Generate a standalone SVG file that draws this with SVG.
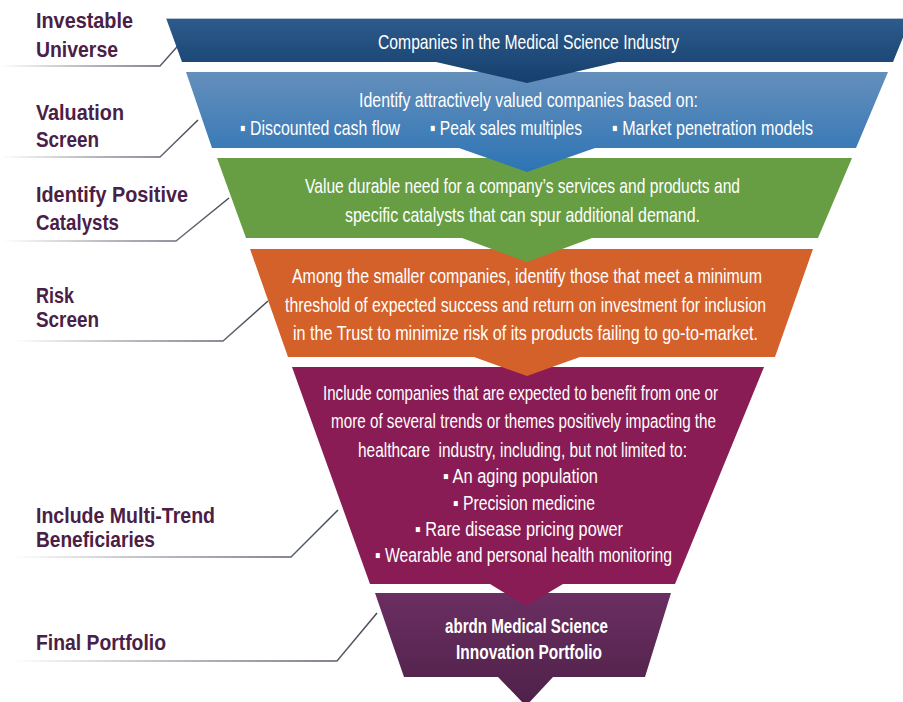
<svg xmlns="http://www.w3.org/2000/svg" width="903" height="702" viewBox="0 0 903 702">
<defs>
<linearGradient id="gNavy" x1="0" y1="0" x2="0" y2="1"><stop offset="0" stop-color="#2d5b8b"/><stop offset="1" stop-color="#153f6d"/></linearGradient>
<linearGradient id="gBlue" x1="0" y1="0" x2="0" y2="1"><stop offset="0" stop-color="#648fbb"/><stop offset="1" stop-color="#2d74b5"/></linearGradient>
<linearGradient id="gPurple" x1="0" y1="0" x2="0" y2="1"><stop offset="0" stop-color="#6b2e62"/><stop offset="1" stop-color="#4e2148"/></linearGradient>
<linearGradient id="gLine" x1="0" y1="0" x2="1" y2="0"><stop offset="0" stop-color="#ffffff"/><stop offset="0.5" stop-color="#9a9ca6"/><stop offset="1" stop-color="#454a58"/></linearGradient>
<style>
.lbl{font-family:"Liberation Sans",Arial,sans-serif;font-weight:bold;font-size:21.5px;fill:#4a2047}
.bt{font-family:"Liberation Sans",Arial,sans-serif;font-size:21px;fill:#ffffff;white-space:pre}
.bt5{font-size:20px}
.bb{font-family:"Liberation Sans",Arial,sans-serif;font-size:20px;font-weight:bold;fill:#ffffff}
.ln{fill:none;stroke:url(#gLine);stroke-width:1.5}
</style>
</defs>
<rect width="903" height="702" fill="#ffffff"/>
<g id="connectors">
<polyline class="ln" points="0,66 160,66 184,39"/>
<polyline class="ln" points="0,157 160,157 198,120"/>
<polyline class="ln" points="3,241 176,241 229,198"/>
<polyline class="ln" points="13,341 223,341 268,301"/>
<polyline class="ln" points="12,557 291,557 338,510"/>
<polyline class="ln" points="12,661 337,661 377,613"/>
</g>
<g id="final-portfolio">
<polygon fill="url(#gPurple)" points="375,593 671,593 645,677 553,677 526,706 498,677 404,677"/>
<text class="bb" x="445" y="633" textLength="163" lengthAdjust="spacingAndGlyphs">abrdn Medical Science</text>
<text class="bb" x="456" y="659" textLength="146" lengthAdjust="spacingAndGlyphs">Innovation Portfolio</text>
<text class="lbl" x="36" y="650" textLength="130" lengthAdjust="spacingAndGlyphs">Final Portfolio</text>
</g>
<g id="multi-trend">
<polygon fill="#891c54" points="292,367 764,367 675,584 563,584 526,606 490,584 370,584"/>
<text class="bt bt5" x="323" y="400" textLength="395" lengthAdjust="spacingAndGlyphs">Include companies that are expected to benefit from one or</text>
<text class="bt bt5" x="331" y="428" textLength="385" lengthAdjust="spacingAndGlyphs">more of several trends or themes positively impacting the</text>
<text class="bt bt5" x="358" y="457" textLength="329" lengthAdjust="spacingAndGlyphs">healthcare  industry, including, but not limited to:</text>
<text class="bt bt5" x="443" y="483" textLength="155" lengthAdjust="spacingAndGlyphs">▪ An aging population</text>
<text class="bt bt5" x="453" y="510" textLength="142" lengthAdjust="spacingAndGlyphs">▪ Precision medicine</text>
<text class="bt bt5" x="415" y="536" textLength="208" lengthAdjust="spacingAndGlyphs">▪ Rare disease pricing power</text>
<text class="bt bt5" x="375" y="562" textLength="297" lengthAdjust="spacingAndGlyphs">▪ Wearable and personal health monitoring</text>
<text class="lbl" x="36" y="523" textLength="179" lengthAdjust="spacingAndGlyphs">Include Multi-Trend</text>
<text class="lbl" x="36" y="547" textLength="119" lengthAdjust="spacingAndGlyphs">Beneficiaries</text>
</g>
<g id="risk-screen">
<polygon fill="#d4612a" points="250,249 813,249 775,357 580,357 527,376 474,357 288,357"/>
<text class="bt" x="292" y="283" textLength="470" lengthAdjust="spacingAndGlyphs">Among the smaller companies, identify those that meet a minimum</text>
<text class="bt" x="285" y="312" textLength="481" lengthAdjust="spacingAndGlyphs">threshold of expected success and return on investment for inclusion</text>
<text class="bt" x="293" y="340" textLength="465" lengthAdjust="spacingAndGlyphs">in the Trust to minimize risk of its products failing to go-to-market.</text>
<text class="lbl" x="36" y="303" textLength="38" lengthAdjust="spacingAndGlyphs">Risk</text>
<text class="lbl" x="36" y="327" textLength="63" lengthAdjust="spacingAndGlyphs">Screen</text>
</g>
<g id="positive-catalysts">
<polygon fill="#679e44" points="217,158 852,158 818,238 592,238 527,262 462,238 246,238"/>
<text class="bt" x="305" y="193" textLength="435" lengthAdjust="spacingAndGlyphs">Value durable need for a company’s services and products and</text>
<text class="bt" x="345" y="222" textLength="355" lengthAdjust="spacingAndGlyphs">specific catalysts that can spur additional demand.</text>
<text class="lbl" x="36" y="202" textLength="152" lengthAdjust="spacingAndGlyphs">Identify Positive</text>
<text class="lbl" x="36" y="230" textLength="83" lengthAdjust="spacingAndGlyphs">Catalysts</text>
</g>
<g id="valuation-screen">
<polygon fill="url(#gBlue)" points="186,72 888,72 856,148 595,148 527,172 459,148 212,148"/>
<text class="bt" x="359" y="107" textLength="339" lengthAdjust="spacingAndGlyphs">Identify attractively valued companies based on:</text>
<text class="bt" x="240" y="135" textLength="160" lengthAdjust="spacingAndGlyphs">▪ Discounted cash flow</text>
<text class="bt" x="430" y="135" textLength="152" lengthAdjust="spacingAndGlyphs">▪ Peak sales multiples</text>
<text class="bt" x="612" y="135" textLength="201" lengthAdjust="spacingAndGlyphs">▪ Market penetration models</text>
<text class="lbl" x="36" y="120" textLength="88" lengthAdjust="spacingAndGlyphs">Valuation</text>
<text class="lbl" x="36" y="147" textLength="63" lengthAdjust="spacingAndGlyphs">Screen</text>
</g>
<g id="investable-universe">
<polygon fill="url(#gNavy)" points="166,18 911,18 893,62 618,62 527,83 436,62 182,62"/>
<line x1="166" y1="18.5" x2="911" y2="18.5" stroke="#b4c2d2" stroke-width="1"/>
<text class="bt" x="378" y="49" textLength="301" lengthAdjust="spacingAndGlyphs">Companies in the Medical Science Industry</text>
<text class="lbl" x="36" y="28" textLength="97" lengthAdjust="spacingAndGlyphs">Investable</text>
<text class="lbl" x="36" y="57" textLength="82" lengthAdjust="spacingAndGlyphs">Universe</text>
</g>
</svg>
